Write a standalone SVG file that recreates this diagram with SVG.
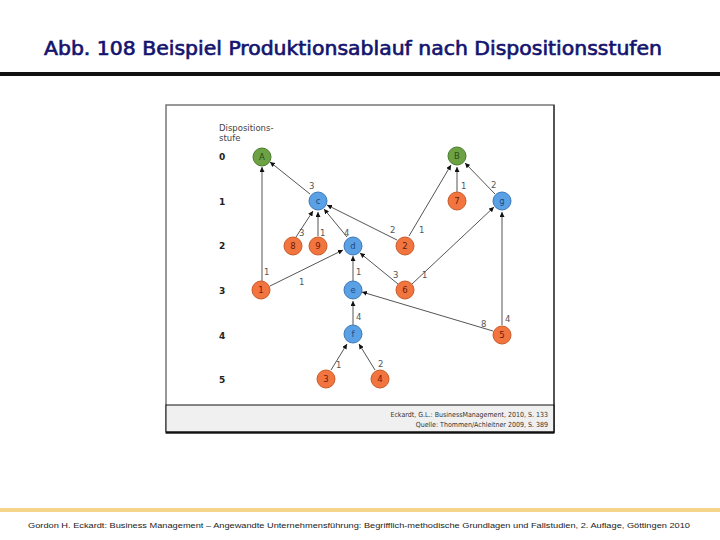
<svg xmlns="http://www.w3.org/2000/svg" width="720" height="540" viewBox="0 0 720 540">
<defs>
<marker id="ah" viewBox="0 0 10 10" refX="10" refY="5" markerWidth="5" markerHeight="5" orient="auto" markerUnits="userSpaceOnUse">
<path d="M0,0 L10,5 L0,10 z" fill="#111"/>
</marker>
<style>
.title{font-family:"DejaVu Sans Condensed","DejaVu Sans",sans-serif;font-size:19px;fill:#14146e;stroke:#14146e;stroke-width:0.6px;}
.foot{font-family:"Liberation Sans",sans-serif;font-size:7.5px;fill:#222;}
.lvl{font-family:"DejaVu Sans",sans-serif;font-size:9px;font-weight:bold;fill:#222;}
.hdr{font-family:"DejaVu Sans",sans-serif;font-size:8.5px;fill:#444;}
.src{font-family:"DejaVu Sans Condensed","DejaVu Sans",sans-serif;font-size:7px;fill:#333;}
.edge{stroke:#555;stroke-width:1;fill:none;marker-end:url(#ah);}
.el{font-family:"DejaVu Sans",sans-serif;font-size:8.5px;fill:#555;}
.green{fill:#6ca244;stroke:#4a7a2c;stroke-width:1;}
.blue{fill:#5aa0e4;stroke:#3b78b8;stroke-width:1;}
.orange{fill:#f2753f;stroke:#c75a28;stroke-width:1;}
.nt{font-family:"DejaVu Sans",sans-serif;font-size:8.5px;text-anchor:middle;dominant-baseline:central;}
.gt{fill:#2c4a1a;}
.bt{fill:#1f4a80;}
.ot{fill:#6a1a08;}
</style>
</defs>
<rect width="720" height="540" fill="#fff"/>
<text class="title" x="353" y="55" text-anchor="middle" textLength="618" lengthAdjust="spacingAndGlyphs">Abb. 108 Beispiel Produktionsablauf nach Dispositionsstufen</text>
<rect x="0" y="72" width="720" height="4" fill="#111"/>

<g id="frame">
<rect x="166" y="105" width="388" height="328" fill="#fff" stroke="#777" stroke-width="1.5"/>
<rect x="166" y="405" width="388" height="27" fill="#f0f0f0" stroke="#111" stroke-width="1"/>
<line x1="166" y1="432.5" x2="554" y2="432.5" stroke="#111" stroke-width="2"/>
<line x1="554" y1="105" x2="554" y2="433" stroke="#111" stroke-width="1"/>
<text class="src" x="548" y="417" text-anchor="end">Eckardt, G.L.: BusinessManagement, 2010, S. 133</text>
<text class="src" x="548" y="427" text-anchor="end">Quelle: Thommen/Achleitner 2009, S. 389</text>
</g>

<g id="levels">
<text class="hdr" x="219" y="131">Dispositions-</text>
<text class="hdr" x="219" y="141">stufe</text>
<text class="lvl" x="219" y="160">0</text>
<text class="lvl" x="219" y="205">1</text>
<text class="lvl" x="219" y="249">2</text>
<text class="lvl" x="219" y="294">3</text>
<text class="lvl" x="219" y="339">4</text>
<text class="lvl" x="219" y="383">5</text>
</g>

<g id="connectors">
<line class="edge" x1="262" y1="281" x2="262" y2="167"/>
<text class="el" x="264" y="275">1</text>
<line class="edge" x1="310" y1="194" x2="270" y2="162"/>
<text class="el" x="309" y="189">3</text>
<line class="edge" x1="296" y1="237" x2="313" y2="211"/>
<text class="el" x="299" y="236">3</text>
<line class="edge" x1="318" y1="236" x2="318" y2="212"/>
<text class="el" x="320" y="236">1</text>
<line class="edge" x1="347" y1="237" x2="324" y2="209"/>
<text class="el" x="344" y="236">4</text>
<line class="edge" x1="397" y1="240" x2="327" y2="205"/>
<text class="el" x="390" y="233">2</text>
<line class="edge" x1="409" y1="236" x2="451" y2="165"/>
<text class="el" x="419" y="233">1</text>
<line class="edge" x1="457" y1="192" x2="457" y2="167"/>
<text class="el" x="461" y="189">1</text>
<line class="edge" x1="495" y1="194" x2="465" y2="163"/>
<text class="el" x="491" y="188">2</text>
<line class="edge" x1="412" y1="284" x2="494" y2="207"/>
<text class="el" x="422" y="278">1</text>
<line class="edge" x1="398" y1="284" x2="360" y2="253"/>
<text class="el" x="393" y="278">3</text>
<line class="edge" x1="270" y1="286" x2="343" y2="250"/>
<text class="el" x="299" y="285">1</text>
<line class="edge" x1="353" y1="281" x2="353" y2="256"/>
<text class="el" x="356" y="275">1</text>
<line class="edge" x1="353" y1="325" x2="353" y2="301"/>
<text class="el" x="356" y="320">4</text>
<line class="edge" x1="493" y1="331" x2="362" y2="292"/>
<text class="el" x="481" y="327">8</text>
<line class="edge" x1="502" y1="325" x2="502" y2="212"/>
<text class="el" x="505" y="322">4</text>
<line class="edge" x1="331" y1="370" x2="347" y2="344"/>
<text class="el" x="336" y="368">1</text>
<line class="edge" x1="375" y1="370" x2="359" y2="344"/>
<text class="el" x="378" y="367">2</text>
</g>

<g id="node-A"><circle class="green" cx="262" cy="157" r="9"/><text class="nt gt" x="262" y="157">A</text></g>
<g id="node-B"><circle class="green" cx="457" cy="156" r="9"/><text class="nt gt" x="457" y="156">B</text></g>
<g id="node-c"><circle class="blue" cx="318" cy="201" r="9"/><text class="nt bt" x="318" y="201">c</text></g>
<g id="node-7"><circle class="orange" cx="457" cy="201" r="9"/><text class="nt ot" x="457" y="201">7</text></g>
<g id="node-g"><circle class="blue" cx="502" cy="201" r="9"/><text class="nt bt" x="502" y="201">g</text></g>
<g id="node-8"><circle class="orange" cx="293" cy="246" r="9"/><text class="nt ot" x="293" y="246">8</text></g>
<g id="node-9"><circle class="orange" cx="318" cy="246" r="9"/><text class="nt ot" x="318" y="246">9</text></g>
<g id="node-d"><circle class="blue" cx="353" cy="246" r="9"/><text class="nt bt" x="353" y="246">d</text></g>
<g id="node-2"><circle class="orange" cx="405" cy="246" r="9"/><text class="nt ot" x="405" y="246">2</text></g>
<g id="node-1"><circle class="orange" cx="261" cy="290" r="9"/><text class="nt ot" x="261" y="290">1</text></g>
<g id="node-e"><circle class="blue" cx="353" cy="290" r="9"/><text class="nt bt" x="353" y="290">e</text></g>
<g id="node-6"><circle class="orange" cx="405" cy="290" r="9"/><text class="nt ot" x="405" y="290">6</text></g>
<g id="node-f"><circle class="blue" cx="353" cy="334" r="9"/><text class="nt bt" x="353" y="334">f</text></g>
<g id="node-5"><circle class="orange" cx="502" cy="335" r="9"/><text class="nt ot" x="502" y="335">5</text></g>
<g id="node-3"><circle class="orange" cx="326" cy="379" r="9"/><text class="nt ot" x="326" y="379">3</text></g>
<g id="node-4"><circle class="orange" cx="380" cy="379" r="9"/><text class="nt ot" x="380" y="379">4</text></g>

<rect x="0" y="508" width="720" height="4" fill="#f5d58a"/>
<text class="foot" x="28" y="528" textLength="662" lengthAdjust="spacingAndGlyphs">Gordon H. Eckardt: Business Management – Angewandte Unternehmensführung: Begrifflich-methodische Grundlagen und Fallstudien, 2. Auflage, Göttingen 2010</text>
</svg>
